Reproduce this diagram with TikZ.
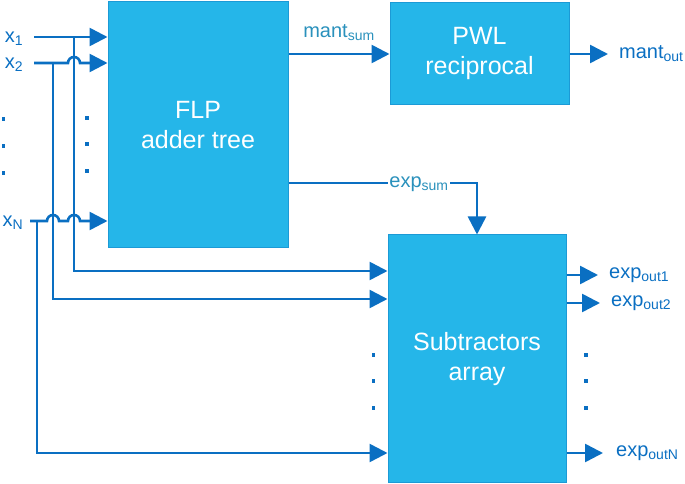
\documentclass[tikz,border=0pt]{standalone}
\usepackage{fontspec}
\setmainfont{Liberation Sans}
\usetikzlibrary{arrows.meta}
\definecolor{boxfill}{HTML}{25B6E9}
\definecolor{boxline}{HTML}{1C9AD6}
\definecolor{wireblue}{HTML}{0A6FC2}
\definecolor{tealtxt}{HTML}{2A91BC}

\begin{document}
\begin{tikzpicture}[x=1pt, y=1pt,
        blk/.style={draw=boxline, line width=1pt, fill=boxfill, text=white, align=center,
            font=\fontsize{25}{30}\selectfont, inner sep=0pt},
        lbl/.style={text=wireblue, font=\fontsize{20}{24}\selectfont, inner sep=2pt},
        wire/.style={draw=wireblue, line width=2.6pt},
        arr/.style={wire, -{Triangle[length=18pt,width=18pt]}},
        dotsq/.style={fill=wireblue}]
    \useasboundingbox (0,0) rectangle (685,484);

    % blocks
    \node[blk, minimum width=180pt, minimum height=246pt] (flp) at (198,359) {FLP\\adder tree};
    \node[blk, minimum width=179pt, minimum height=102pt] (pwl) at (479.5,430) {PWL\\reciprocal};
    \node[blk, minimum width=178pt, minimum height=248pt] (sub) at (477,125) {Subtractors\\array};

    % inputs
    \node[lbl] (x1) at (14,445) {x\textsubscript{1}};
    \node[lbl] (x2) at (14,419) {x\textsubscript{2}};
    \node[lbl] (xN) at (13,261) {x\textsubscript{N}};
    \coordinate (s1) at (34,447);
    \coordinate (s2) at (34,421);
    \coordinate (sN) at (30,263);
    \coordinate (t1) at (74,447);
    \coordinate (t2) at (53,421);
    \coordinate (tN) at (37,263);

    \draw[arr] (s1) -- (s1 -| flp.west);
    \draw[arr] (s2) -- (68,421) arc[start angle=180, end angle=0, radius=6] -- (s2 -| flp.west);
    \draw[arr] (sN) -- (47,263) arc[start angle=180, end angle=0, radius=6]
        -- (68,263) arc[start angle=180, end angle=0, radius=6] -- (sN -| flp.west);

    % taps to the subtractors
    \draw[arr] (t1) |- (sub.west |- 0,213);
    \draw[arr] (t2) |- (sub.west |- 0,185);
    \draw[arr] (tN) |- (sub.west |- 0,31);

    % dots
    \foreach \y in {365,338,311}
        \fill[dotsq] (3.5,\y) +(-1.8,-1.8) rectangle +(1.8,1.8);
    \foreach \y in {366,340,313}
        \fill[dotsq] (87,\y) +(-1.8,-1.8) rectangle +(1.8,1.8);
    \foreach \y in {129,103,76} {
        \fill[dotsq] (373.5,\y) +(-1.8,-1.8) rectangle +(1.8,1.8);
        \fill[dotsq] (586,\y) +(-1.8,-1.8) rectangle +(1.8,1.8);
    }

    % mantissa path
    \draw[arr] (flp.east |- pwl.west) -- (pwl.west);
    \node[lbl, text=tealtxt] (msum) at (339,451) {mant\textsubscript{sum}};
    \coordinate (mo) at (608,430);
    \draw[arr] (pwl.east) -- (mo);
    \node[lbl, anchor=west] (mout) at (617,430) {mant\textsubscript{out}};

    % exponent path
    \coordinate (ec) at (477,301);
    \draw[arr] (flp.east |- ec) -- (ec) -- (ec |- sub.north);
    \node[lbl, text=tealtxt, fill=white, inner xsep=1pt] (esum) at (419,300) {exp\textsubscript{sum}};

    % outputs
    \coordinate (o1) at (598,209);
    \coordinate (o2) at (600,181);
    \coordinate (oN) at (603,31);
    \draw[arr] (sub.east |- o1) -- (o1);
    \draw[arr] (sub.east |- o2) -- (o2);
    \draw[arr] (sub.east |- oN) -- (oN);
    \node[lbl, anchor=west] (eo1) at (607,209) {exp\textsubscript{out1}};
    \node[lbl, anchor=west] (eo2) at (609,181) {exp\textsubscript{out2}};
    \node[lbl, anchor=west] (eoN) at (614,31) {exp\textsubscript{outN}};
\end{tikzpicture}
\end{document}
